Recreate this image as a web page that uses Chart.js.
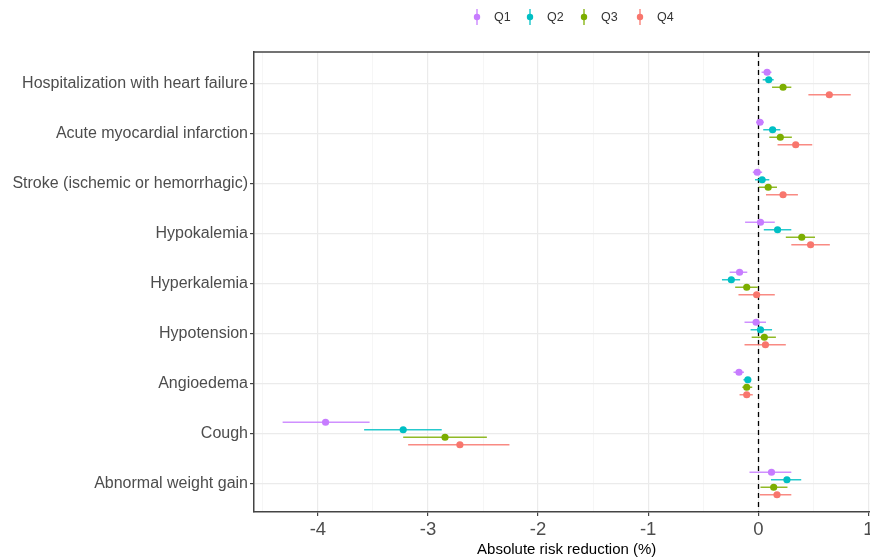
<!DOCTYPE html>
<html>
<head>
<meta charset="utf-8">
<script src="https://cdn.jsdelivr.net/npm/chart.js@4.4.1/dist/chart.umd.min.js"></script>
<style>
  html, body { margin: 0; padding: 0; background: #fff; overflow: hidden; }
  #wrap { width: 883px; height: 560px; }
</style>
</head>
<body>
<div id="wrap"><canvas id="chart" width="883" height="560"></canvas></div>
<script>
// outcomes, top to bottom
const categories = [
  'Hospitalization with heart failure',
  'Acute myocardial infarction',
  'Stroke (ischemic or hemorrhagic)',
  'Hypokalemia',
  'Hyperkalemia',
  'Hypotension',
  'Angioedema',
  'Cough',
  'Abnormal weight gain'
];
const seriesNames = ['Q1', 'Q2', 'Q3', 'Q4'];
const seriesColors = ['#C77CFF', '#00BFC4', '#7CAE00', '#F8766D'];

const q1Est  = [0.08, 0.015, -0.01, 0.02, -0.17, -0.02, -0.175, -3.93, 0.12];
const q1Low  = [0.03, -0.02, -0.05, -0.12, -0.26, -0.125, -0.225, -4.32, -0.08];
const q1High = [0.12, 0.05, 0.035, 0.15, -0.10, 0.07, -0.13, -3.53, 0.30];

const q2Est  = [0.095, 0.13, 0.035, 0.175, -0.245, 0.02, -0.095, -3.225, 0.26];
const q2Low  = [0.04, 0.045, -0.03, 0.05, -0.33, -0.07, -0.135, -3.58, 0.115];
const q2High = [0.14, 0.20, 0.10, 0.30, -0.165, 0.125, -0.065, -2.875, 0.39];

const q3Est  = [0.225, 0.20, 0.09, 0.395, -0.105, 0.055, -0.105, -2.845, 0.14];
const q3Low  = [0.125, 0.10, 0.005, 0.25, -0.21, -0.06, -0.145, -3.225, 0.02];
const q3High = [0.30, 0.305, 0.17, 0.515, -0.005, 0.16, -0.055, -2.465, 0.265];

const q4Est  = [0.645, 0.34, 0.225, 0.475, -0.015, 0.065, -0.105, -2.71, 0.17];
const q4Low  = [0.455, 0.175, 0.07, 0.30, -0.18, -0.125, -0.17, -3.18, 0.015];
const q4High = [0.84, 0.49, 0.36, 0.65, 0.15, 0.25, -0.05, -2.26, 0.30];

const xTicks = [-4.5, -4, -3.5, -3, -2.5, -2, -1.5, -1, -0.5, 0, 0.5, 1];

const estimates = [q1Est, q2Est, q3Est, q4Est];
const lows = [q1Low, q2Low, q3Low, q4Low];
const highs = [q1High, q2High, q3High, q4High];

// vertical dodge of the four quartiles inside one row
const dodge = [0.225, 0.075, -0.075, -0.225];
const nCat = categories.length;

function rowValue(i) { return nCat - i; }

const datasets = seriesNames.map((name, s) => ({
  label: name,
  data: estimates[s].map((v, i) => ({ x: v, y: rowValue(i) + dodge[s], lo: lows[s][i], hi: highs[s][i] })),
  backgroundColor: seriesColors[s],
  borderColor: seriesColors[s],
  pointRadius: 3.6,
  pointHoverRadius: 3.6,
  borderWidth: 0
}));

const fontFamily = '"Liberation Sans", Arial, sans-serif';

const decor = {
  id: 'decor',
  beforeDatasetsDraw(chart) {
    const { ctx, chartArea, scales } = chart;
    const x = scales.x, y = scales.y;
    ctx.save();
    // dashed zero line
    const x0 = Math.round(x.getPixelForValue(0)) + 0.5;
    ctx.strokeStyle = '#000';
    ctx.lineWidth = 1.3;
    ctx.setLineDash([5, 4]);
    ctx.beginPath();
    ctx.moveTo(x0, chartArea.top);
    ctx.lineTo(x0, chartArea.bottom);
    ctx.stroke();
    ctx.setLineDash([]);
    // error bars
    chart.data.datasets.forEach((ds, s) => {
      ctx.strokeStyle = ds.borderColor;
      ctx.globalAlpha = 0.85;
      ctx.lineWidth = 1.5;
      ds.data.forEach(p => {
        const py = y.getPixelForValue(p.y);
        ctx.beginPath();
        ctx.moveTo(x.getPixelForValue(p.lo), py);
        ctx.lineTo(x.getPixelForValue(p.hi), py);
        ctx.stroke();
      });
    });
    ctx.restore();
  },
  afterDraw(chart) {
    const { ctx, chartArea } = chart;
    ctx.save();
    // top panel border
    ctx.strokeStyle = '#444';
    ctx.lineWidth = 1.5;
    ctx.beginPath();
    ctx.moveTo(chartArea.left, chartArea.top);
    ctx.lineTo(chartArea.right + 5, chartArea.top);
    ctx.stroke();
    // legend
    const iconX = [477, 530, 584, 640];
    const legY = 17;
    ctx.font = '12.5px ' + fontFamily;
    ctx.textBaseline = 'middle';
    seriesNames.forEach((name, s) => {
      ctx.strokeStyle = seriesColors[s];
      ctx.lineWidth = 1.5;
      ctx.globalAlpha = 0.85;
      ctx.beginPath();
      ctx.moveTo(iconX[s], legY - 8);
      ctx.lineTo(iconX[s], legY + 8);
      ctx.stroke();
      ctx.globalAlpha = 1;
      ctx.fillStyle = seriesColors[s];
      ctx.beginPath();
      ctx.arc(iconX[s], legY, 3.2, 0, Math.PI * 2);
      ctx.fill();
      ctx.fillStyle = '#333';
      ctx.fillText(name, iconX[s] + 17, legY + 1);
    });
    ctx.restore();
  }
};

new Chart(document.getElementById('chart'), {
  type: 'scatter',
  data: { datasets },
  options: {
    responsive: false,
    animation: false,
    layout: { padding: { left: 0, top: 52, right: 1, bottom: 0 } },
    plugins: {
      legend: { display: false },
      tooltip: { enabled: false }
    },
    scales: {
      x: {
        type: 'linear',
        min: -4.58,
        max: 1.1,
        afterBuildTicks(scale) { scale.ticks = xTicks.map(v => ({ value: v })); },
        afterFit(scale) {
          scale.height = 48;
          scale.paddingLeft = 0;
          scale.paddingRight = 0;
        },
        ticks: {
          autoSkip: false,
          maxRotation: 0,
          padding: 3,
          color: '#4D4D4D',
          font: { family: fontFamily, size: 18.5 },
          callback: v => Number.isInteger(v) ? String(v) : ''
        },
        grid: {
          color: c => Number.isInteger(c.tick.value) ? '#EBEBEB' : '#F4F4F4',
          lineWidth: c => Number.isInteger(c.tick.value) ? 1.2 : 0.8,
          tickColor: c => Number.isInteger(c.tick.value) ? '#444' : 'rgba(0,0,0,0)',
          tickLength: 4,
          drawTicks: true
        },
        border: { display: true, color: '#444', width: 1.5 },
        title: {
          display: true,
          text: 'Absolute risk reduction (%)',
          color: '#000',
          font: { family: fontFamily, size: 15 },
          padding: { top: 0, bottom: 1.5 }
        }
      },
      y: {
        type: 'linear',
        min: 0.43,
        max: nCat + 0.63,
        afterBuildTicks(scale) {
          scale.ticks = categories.map((c, i) => ({ value: rowValue(i) }));
        },
        afterFit(scale) { scale.width = 254; },
        ticks: {
          autoSkip: false,
          padding: 2,
          color: '#4D4D4D',
          font: { family: fontFamily, size: 16 },
          callback: v => categories[nCat - v]
        },
        grid: {
          color: '#EBEBEB',
          lineWidth: 1.2,
          tickColor: '#444',
          tickLength: 4
        },
        border: { display: true, color: '#444', width: 1.5 }
      }
    }
  },
  plugins: [decor]
});
</script>
</body>
</html>
